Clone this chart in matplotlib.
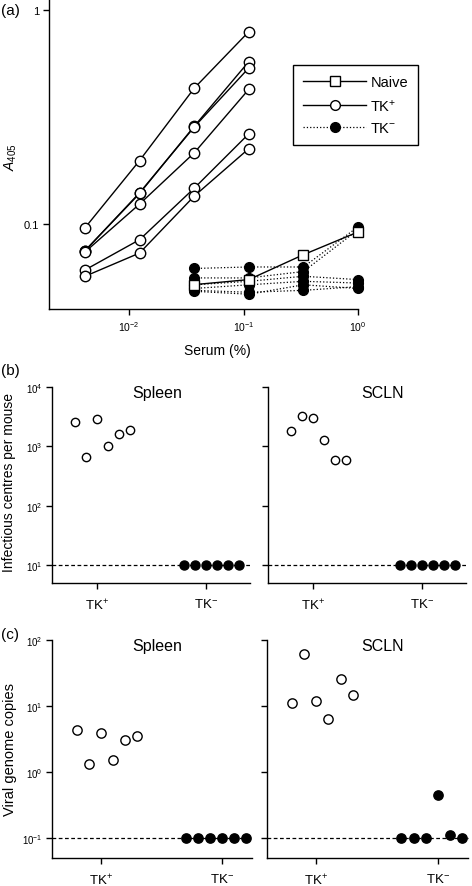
import matplotlib
matplotlib.use("Agg")
import matplotlib.pyplot as plt
import numpy as np
from matplotlib.lines import Line2D

plt.rcParams["font.family"] = ["Liberation Sans", "DejaVu Sans"]
plt.rcParams["mathtext.fontset"] = "custom"
plt.rcParams["mathtext.rm"] = "Liberation Sans"
plt.rcParams["mathtext.it"] = "Liberation Sans:italic"
plt.rcParams["mathtext.default"] = "regular"

# ---- panel (a): ELISA, serum dilution series ----
serum_tkpos = [1 / 243, 1 / 81, 1 / 27, 1 / 9]
a405_tkpos = [
    [0.096, 0.198, 0.431, 0.792],
    [0.075, 0.139, 0.286, 0.574],
    [0.075, 0.140, 0.284, 0.536],
    [0.074, 0.124, 0.215, 0.426],
    [0.061, 0.0845, 0.147, 0.264],
    [0.057, 0.0732, 0.135, 0.225],
]
serum_tail = [1 / 27, 1 / 9, 1 / 3, 1.0]
a405_tkneg = [
    [0.062, 0.063, 0.063, 0.097],
    [0.056, 0.056, 0.060, 0.094],
    [0.052, 0.054, 0.057, 0.055],
    [0.050, 0.052, 0.054, 0.053],
    [0.049, 0.048, 0.049, 0.051],
    [0.0485, 0.047, 0.052, 0.050],
]
a405_naive = [0.0521, 0.055, 0.0719, 0.0918]

# ---- panel (b): infectious centres per mouse ----
groups = ["TK$^{+}$", "TK$^{-}$"]
ic_spleen_tkpos = [2545, 667, 2863, 1019, 1599, 1870]
ic_spleen_tkneg = [10, 10, 10, 10, 10, 10]
ic_scln_tkpos = [1799, 3257, 2972, 1271, 601, 601]
ic_scln_tkneg = [10, 10, 10, 10, 10, 10]
ic_limit = 10

# ---- panel (c): viral genome copies ----
vg_spleen_tkpos = [4.30, 1.31, 3.92, 1.51, 3.03, 3.57]
vg_spleen_tkneg = [0.1, 0.1, 0.1, 0.1, 0.1, 0.1]
vg_scln_tkpos = [11.0, 61.4, 11.8, 6.31, 26.0, 14.6]
vg_scln_tkneg = [0.1, 0.1, 0.1, 0.447, 0.111, 0.1]
vg_limit = 0.1

W, H = 472, 887
fig = plt.figure(figsize=(W / 100, H / 100), dpi=100)


def box(l, t, r, b):
    return [l / W, 1 - b / H, (r - l) / W, (b - t) / H]


# ---------------- (a) ----------------
ax = fig.add_axes(box(49, 0, 358, 310))
for ys in a405_tkpos:
    ax.plot(serum_tkpos, ys, "-o", color="black", lw=1.0, ms=7.5, mfc="white",
            mec="black", mew=1.0, clip_on=False, zorder=3)
for ys in a405_tkneg:
    ax.plot(serum_tail, ys, ":o", color="black", lw=0.9, ms=7.0, mfc="black",
            mec="black", clip_on=False, zorder=2)
ax.plot(serum_tail, a405_naive, "-s", color="black", lw=1.0, ms=7.0, mfc="white",
        mec="black", mew=1.0, clip_on=False, zorder=4)
ax.set_xscale("log")
ax.set_yscale("log")
ax.set_xlim(10 ** -2.70, 1.0)
ax.set_ylim(10 ** -1.397, 10 ** 0.0514)
ax.set_xticks([1e-2, 1e-1, 1e0])
ax.set_xticklabels(["$10^{-2}$", "$10^{-1}$", "$10^{0}$"], fontsize=7.5)
ax.set_yticks([0.1, 1])
ax.set_yticklabels(["0.1", "1"], fontsize=8)
ax.minorticks_off()
ax.tick_params(direction="out", length=4, width=1.0, pad=3)
for s in ["top", "right"]:
    ax.spines[s].set_visible(False)
for s in ["left", "bottom"]:
    ax.spines[s].set_linewidth(1.0)
ax.set_xlabel("Serum (%)", fontsize=10)
ax.xaxis.set_label_coords(217 / W, 1 - 344 / H, transform=fig.transFigure)
ax.set_ylabel("$\\mathit{A}_{405}$", fontsize=10)
ax.yaxis.set_label_coords(19 / W, 1 - 157 / H, transform=fig.transFigure)

handles = [
    Line2D([], [], ls="-", color="black", lw=1.0, marker="s", ms=7, mfc="white", mec="black"),
    Line2D([], [], ls="-", color="black", lw=1.0, marker="o", ms=7, mfc="white", mec="black"),
    Line2D([], [], ls=":", color="black", lw=0.9, marker="o", ms=7, mfc="black", mec="black"),
]
leg = fig.legend(handles, ["Naive", "TK$^{+}$", "TK$^{-}$"], loc="upper left",
                 bbox_to_anchor=(293 / W, 1 - 66 / H), fontsize=10.5, handlelength=4.3,
                 handletextpad=0.3, borderpad=0.7, labelspacing=0.55, borderaxespad=0,
                 fancybox=False, framealpha=1, edgecolor="black")
leg.get_frame().set_linewidth(1.0)


# ---------------- (b) and (c) ----------------
def dot_panel(rect, tkpos, tkneg, limit, ylim, yticks, ylabels, title, title_x,
              offs_pos, offs_neg, xlim, ms_open, ms_fill):
    ax = fig.add_axes(rect)
    ax.axhline(limit, color="black", ls=(0, (3, 2)), lw=0.9, zorder=1, clip_on=False)
    ax.plot([1 + o for o in offs_pos], tkpos, "o", ms=ms_open, mfc="white", mec="black",
            mew=1.0, ls="none", zorder=3, clip_on=False)
    ax.plot([2 + o for o in offs_neg], tkneg, "o", ms=ms_fill, mfc="black", mec="black",
            ls="none", zorder=3, clip_on=False)
    ax.set_yscale("log")
    ax.set_ylim(*ylim)
    ax.set_xlim(*xlim)
    ax.set_yticks(yticks)
    ax.set_yticklabels(ylabels, fontsize=7)
    ax.minorticks_off()
    ax.set_xticks([1, 2])
    ax.set_xticklabels(groups, fontsize=9.5)
    ax.tick_params(direction="out", length=4, width=1.0, pad=3)
    ax.tick_params(axis="x", pad=6)
    for s in ["top", "right"]:
        ax.spines[s].set_visible(False)
    for s in ["left", "bottom"]:
        ax.spines[s].set_linewidth(1.0)
    ax.text(title_x, 1.01, title, transform=ax.transAxes, ha="center", va="top",
            fontsize=11.5)
    return ax


offs_b = [-0.2, -0.1, 0.0, 0.1, 0.2, 0.3]
offs_c_neg = [-0.3, -0.2, -0.1, 0.0, 0.1, 0.2]
xlim_b = (0.588, 2.403)
xlim_c = (0.595, 2.248)
ylim_b = (10 ** 0.70, 1e4)
ylim_c = (10 ** -1.30, 1e2)
yt_b = [1e1, 1e2, 1e3, 1e4]
yl_b = ["$10^{1}$", "$10^{2}$", "$10^{3}$", "$10^{4}$"]
yt_c = [1e-1, 1e0, 1e1, 1e2]
yl_c = ["$10^{-1}$", "$10^{0}$", "$10^{1}$", "$10^{2}$"]

axb1 = dot_panel(box(52, 388, 250, 584), ic_spleen_tkpos, ic_spleen_tkneg, ic_limit,
                 ylim_b, yt_b, yl_b, "Spleen", 0.53, offs_b, offs_b, xlim_b, 6.0, 6.5)
axb2 = dot_panel(box(268, 388, 466, 584), ic_scln_tkpos, ic_scln_tkneg, ic_limit,
                 ylim_b, yt_b, [], "SCLN", 0.58, offs_b, offs_b, xlim_b, 6.0, 6.5)
axb1.set_ylabel("Infectious centres per mouse", fontsize=10)
axb1.yaxis.set_label_coords(16 / W, 1 - 483 / H, transform=fig.transFigure)

axc1 = dot_panel(box(52, 641, 252, 859), vg_spleen_tkpos, vg_spleen_tkneg, vg_limit,
                 ylim_c, yt_c, yl_c, "Spleen", 0.525, offs_b, offs_c_neg, xlim_c, 6.7, 6.7)
axc2 = dot_panel(box(267, 641, 468, 859), vg_scln_tkpos, vg_scln_tkneg, vg_limit,
                 ylim_c, yt_c, [], "SCLN", 0.577, offs_b, offs_c_neg, xlim_c, 6.7, 6.7)
axc1.set_ylabel("Viral genome copies", fontsize=10.5)
axc1.yaxis.set_label_coords(17 / W, 1 - 750 / H, transform=fig.transFigure)

for lab, ypx in [("(a)", 11), ("(b)", 371), ("(c)", 635)]:
    fig.text(1 / W, 1 - ypx / H, lab, ha="left", va="center", fontsize=11)

fig.savefig("out.png", dpi=100, facecolor="white")
